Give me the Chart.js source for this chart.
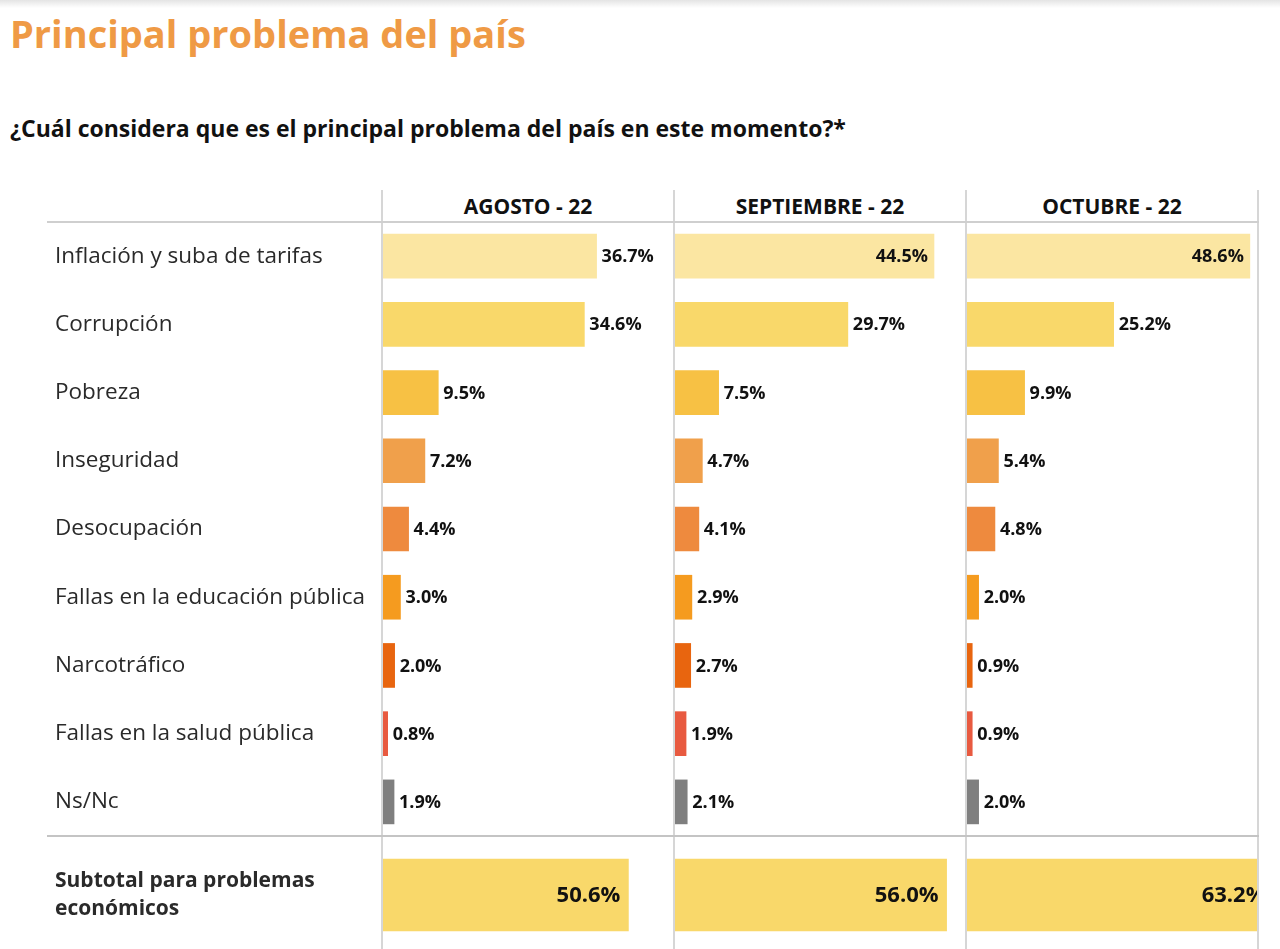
<!DOCTYPE html>
<html lang="es">
<head>
<meta charset="utf-8">
<title>Principal problema del país</title>
<script src="https://cdn.jsdelivr.net/npm/chart.js@4.4.1/dist/chart.umd.min.js"></script>
<style>
  html, body { margin: 0; padding: 0; background: #fff; overflow: hidden; }
  body { width: 1280px; height: 949px; position: relative; font-family: "Open Sans", sans-serif; }
  .topshade { position: absolute; left: 0; top: 0; width: 1280px; height: 8px;
              background: linear-gradient(#e4e4e4, #fff); }
  h1 { position: absolute; left: 10px; top: 7px; margin: 0; font-size: 38px; font-weight: 700;
       color: #ef9a45; line-height: normal; }
  h2 { position: absolute; left: 10px; top: 112px; margin: 0; font-size: 23px; font-weight: 700; color: #111;
       line-height: normal; }
  .hdr { position: absolute; top: 192px; width: 292px; text-align: center; font-size: 21px; font-weight: 700;
         color: #111; line-height: normal; }
  .vline { position: absolute; width: 2px; background: #d6d6d6; z-index: 5; }
  .hline { position: absolute; height: 2px; background: #cfcfcf; z-index: 5; }
  .box { position: absolute; }
</style>
</head>
<body>
<div class="topshade"></div>
<h1>Principal problema del país</h1>
<h2>¿Cuál considera que es el principal problema del país en este momento?*</h2>

<div class="hdr" style="left:382px">AGOSTO - 22</div>
<div class="hdr" style="left:674px">SEPTIEMBRE - 22</div>
<div class="hdr" style="left:966px">OCTUBRE - 22</div>

<div class="vline" style="left:381px;top:190px;height:759px"></div>
<div class="vline" style="left:673px;top:190px;height:759px"></div>
<div class="vline" style="left:965px;top:190px;height:759px"></div>
<div class="vline" style="left:1257px;top:190px;height:759px"></div>
<div class="hline" style="left:47px;top:221px;width:1212px"></div>
<div class="hline" style="left:47px;top:835px;width:1212px;background:#c4c4c4"></div>

<div class="box" style="left:55px;top:222px;width:619px;height:614px"><canvas id="c_ago"></canvas></div>
<div class="box" style="left:675px;top:222px;width:291px;height:614px"><canvas id="c_sep"></canvas></div>
<div class="box" style="left:967px;top:222px;width:291px;height:614px"><canvas id="c_oct"></canvas></div>

<div class="box" style="left:55px;top:836px;width:619px;height:118px"><canvas id="s_ago"></canvas></div>
<div class="box" style="left:675px;top:836px;width:291px;height:118px"><canvas id="s_sep"></canvas></div>
<div class="box" style="left:967px;top:836px;width:291px;height:118px"><canvas id="s_oct"></canvas></div>

<script>
// datos
const problemas = ['Inflación y suba de tarifas', 'Corrupción', 'Pobreza', 'Inseguridad', 'Desocupación',
                   'Fallas en la educación pública', 'Narcotráfico', 'Fallas en la salud pública', 'Ns/Nc'];
const agosto     = [36.7, 34.6, 9.5, 7.2, 4.4, 3.0, 2.0, 0.8, 1.9];
const septiembre = [44.5, 29.7, 7.5, 4.7, 4.1, 2.9, 2.7, 1.9, 2.1];
const octubre    = [48.6, 25.2, 9.9, 5.4, 4.8, 2.0, 0.9, 0.9, 2.0];
const colores = ['#fbe6a2', '#f9d86a', '#f7c144', '#f0a04b', '#ee8a3e', '#f59b1f', '#e8650f', '#e85a40', '#7f7f7f'];

const subtotalLabel = ['Subtotal para problemas', 'económicos'];
const subtotales = [50.6, 56.0, 63.2];

const FONT = '"Open Sans", sans-serif';

// escribe el % al final de cada barra (adentro si la barra es larga)
const etiquetas = {
  id: 'etiquetas',
  afterDatasetsDraw(chart, args, opts) {
    const ctx = chart.ctx;
    const meta = chart.getDatasetMeta(0);
    const vals = chart.data.datasets[0].data;
    ctx.save();
    ctx.font = '700 ' + opts.size + 'px ' + FONT;
    ctx.fillStyle = '#111';
    ctx.textBaseline = 'middle';
    meta.data.forEach(function (bar, i) {
      const txt = vals[i].toFixed(1) + '%';
      if (vals[i] >= opts.inside) {
        ctx.textAlign = 'right';
        ctx.fillText(txt, bar.x - opts.padIn, bar.y + 1);
      } else {
        ctx.textAlign = 'left';
        ctx.fillText(txt, bar.x + 5, bar.y + 1);
      }
    });
    ctx.restore();
  }
};

function panel(id, labels, values, bg, max, thick, showLabels, labelOpts, bold) {
  new Chart(id, {
    type: 'bar',
    data: {
      labels: labels,
      datasets: [{ data: values, backgroundColor: bg, barThickness: thick, borderWidth: 0 }]
    },
    options: {
      indexAxis: 'y',
      responsive: true,
      maintainAspectRatio: false,
      animation: false,
      layout: { padding: 0 },
      plugins: {
        legend: { display: false },
        tooltip: { enabled: false },
        etiquetas: labelOpts
      },
      scales: {
        x: { display: false, min: 0, max: max },
        y: {
          display: showLabels,
          border: { display: false },
          grid: { display: false, drawTicks: false },
          ticks: {
            crossAlign: 'far',
            padding: 0,
            color: '#2a2a2a',
            font: { family: FONT, size: bold ? 21 : 22.5, weight: bold ? '700' : '400', lineHeight: bold ? 1.33 : 1.2 }
          },
          afterFit: function (scale) {
            if (!showLabels) return;
            scale.width = 328;
            scale.paddingTop = 0;
            scale.paddingBottom = 0;
          }
        }
      }
    },
    plugins: [etiquetas]
  });
}

const filaOpts = { size: 18, inside: 40, padIn: 6 };
const subOpts = { size: 22, inside: 0, padIn: 8 };

panel('c_ago', problemas, agosto, colores, 50, 44, true, filaOpts, false);
panel('c_sep', problemas, septiembre, colores, 50, 44, false, filaOpts, false);
panel('c_oct', problemas, octubre, colores, 50, 44, false, filaOpts, false);

panel('s_ago', [subtotalLabel], [subtotales[0]], '#f9d86a', 60, 72, true, subOpts, true);
panel('s_sep', [subtotalLabel], [subtotales[1]], '#f9d86a', 60, 72, false, subOpts, true);
panel('s_oct', [subtotalLabel], [subtotales[2]], '#f9d86a', 60, 72, false, subOpts, true);
</script>
</body>
</html>
